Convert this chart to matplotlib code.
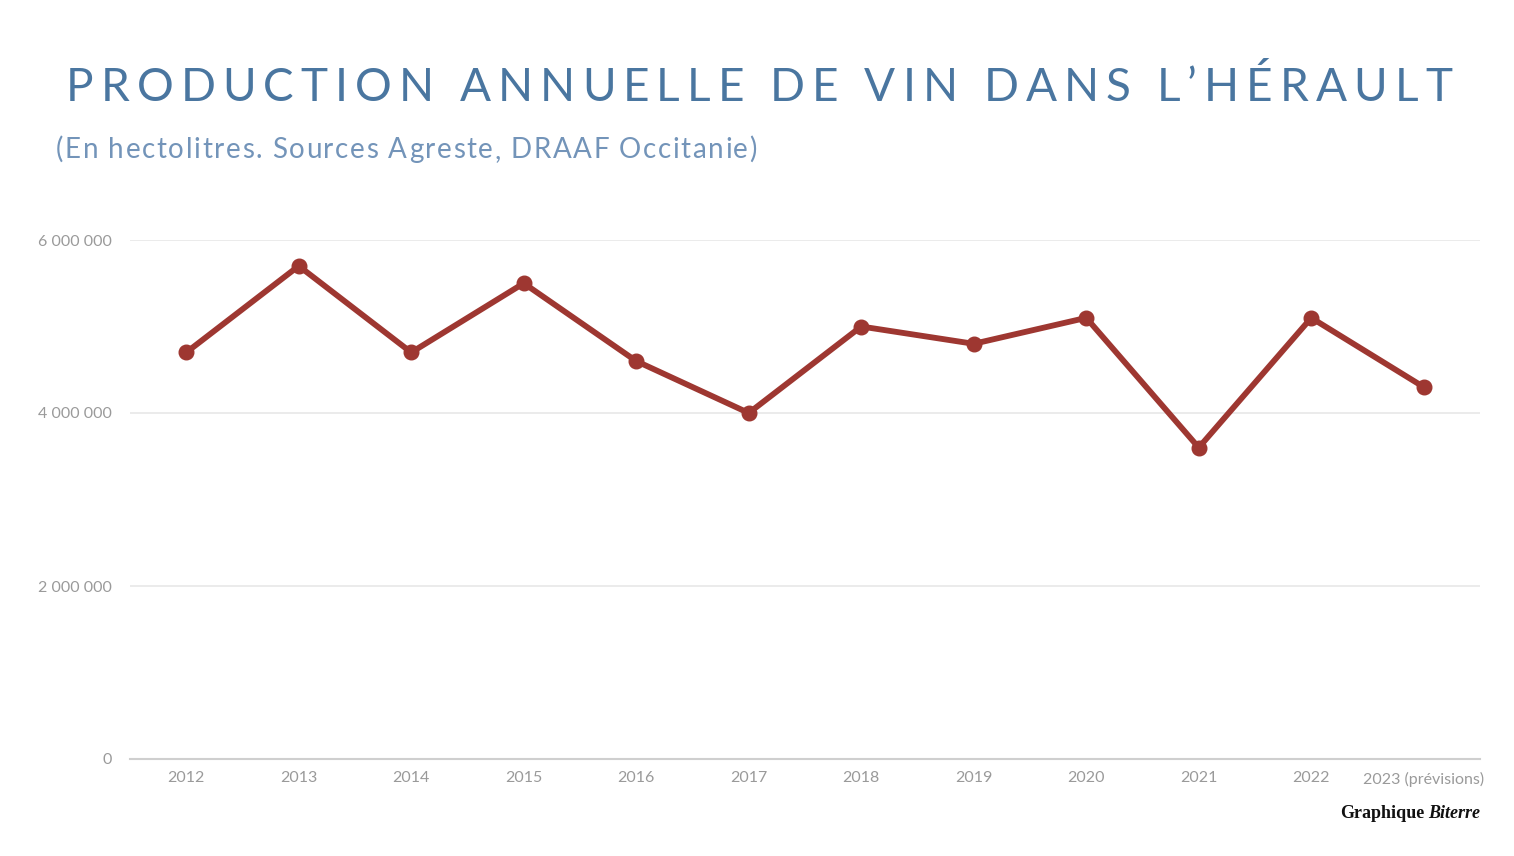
import matplotlib
matplotlib.use("Agg")
import matplotlib.pyplot as plt
from matplotlib.ticker import FuncFormatter

years = ["2012", "2013", "2014", "2015", "2016", "2017", "2018", "2019", "2020", "2021", "2022", "2023 (prévisions)"]
production = [4700000, 5700000, 4700000, 5500000, 4600000, 4000000, 5000000, 4800000, 5100000, 3600000, 5100000, 4300000]
yticks = [0, 2000000, 4000000, 6000000]
title = "PRODUCTION ANNUELLE DE VIN DANS L\u2019HÉRAULT"
subtitle = "(En hectolitres. Sources Agreste, DRAAF Occitanie)"

W, H = 1514, 856
fig = plt.figure(figsize=(W / 100, H / 100), dpi=100)
fig.patch.set_facecolor("white")
ax = fig.add_axes([130 / W, 1 - 759 / H, (1480 - 130) / W, (759 - 240) / H])

x = list(range(len(years)))
ax.plot(x, production, color="#9e3731", lw=4.2, marker="o", markersize=10.5,
        solid_capstyle="round", solid_joinstyle="round", clip_on=False, zorder=3)

ax.set_xlim(-0.5, len(years) - 0.5)
ax.set_ylim(0, 6000000)
ax.set_yticks(yticks)
ax.yaxis.set_major_formatter(FuncFormatter(lambda v, p: f"{int(v):,}".replace(",", " ")))
ax.set_xticks(x)
ax.set_xticklabels(years)
for s in ["top", "right", "left"]:
    ax.spines[s].set_visible(False)
ax.spines["bottom"].set_color("#cfcfcf")
ax.spines["bottom"].set_linewidth(1.5)
ax.grid(axis="y", color="#e8e8e8", lw=1.2)
ax.set_axisbelow(True)
ax.tick_params(axis="both", length=0, colors="#9a9a9a", labelsize=11.5)
ax.tick_params(axis="y", pad=13)
ax.tick_params(axis="x", pad=9)
for lab in ax.get_xticklabels() + ax.get_yticklabels():
    lab.set_family("Lato")

renderer = fig.canvas.get_renderer()


def tracked_text(s, x0, x1, yc, **kw):
    """Lay out string s between pixel x0 and x1 with uniform letter spacing."""
    probe = fig.text(0, 0, s, **kw)
    natural = probe.get_window_extent(renderer).width
    probe.remove()
    offsets = []
    for i in range(len(s)):
        if i == 0:
            offsets.append(0.0)
            continue
        p = fig.text(0, 0, s[:i] + "|", **kw)
        w = p.get_window_extent(renderer).width
        p.remove()
        q = fig.text(0, 0, "|", **kw)
        wq = q.get_window_extent(renderer).width
        q.remove()
        offsets.append(w - wq)
    extra = ((x1 - x0) - natural) / (len(s) - 1)
    for i, ch in enumerate(s):
        if ch == " ":
            continue
        fig.text((x0 + offsets[i] + i * extra) / W, 1 - yc / H, ch,
                 ha="left", va="baseline", **kw)


tracked_text(title, 66, 1452, 101, family="Lato", fontsize=33, color="#4a76a0")
tracked_text(subtitle, 56, 757, 158, family="Lato", fontsize=20, color="#7394b9")

t2 = fig.text(1480 / W, 1 - 813 / H, "Biterre", family="Liberation Serif",
              fontsize=13, fontweight="bold", style="italic", color="#111111",
              va="center", ha="right")
fig.canvas.draw()
bb = t2.get_window_extent()
fig.text((bb.x0 - 4) / W, 1 - 813 / H, "Graphique", family="Liberation Serif",
         fontsize=13, fontweight="bold", color="#111111", va="center", ha="right")

fig.savefig("out.png", dpi=100, facecolor="white")
